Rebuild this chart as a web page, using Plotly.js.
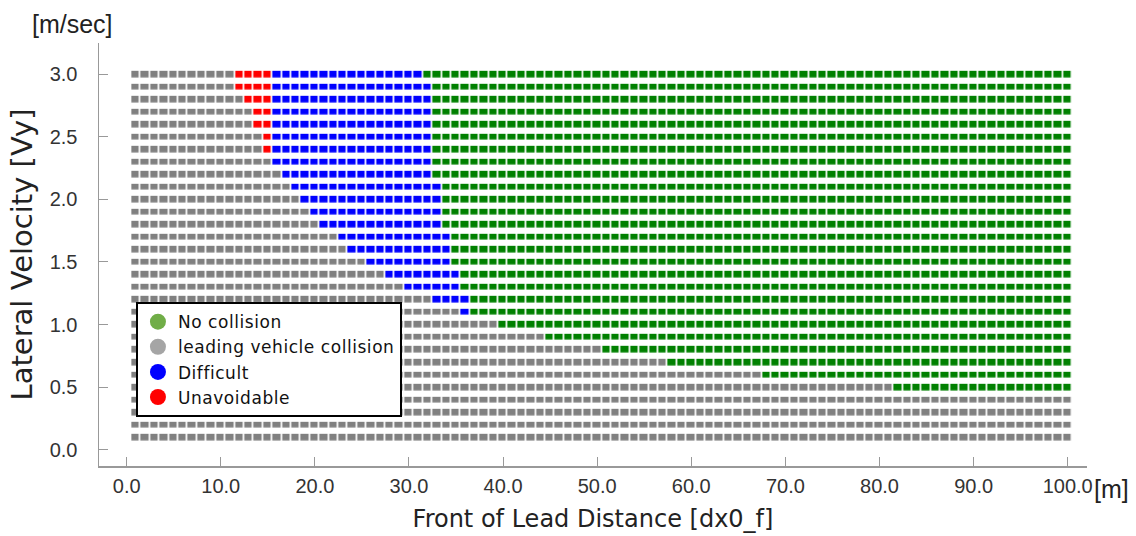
<!DOCTYPE html>
<html>
<head>
<meta charset="utf-8">
<script src="https://cdn.plot.ly/plotly-3.0.1.min.js"></script>
<style>
html,body{margin:0;padding:0;background:#fff;}
#chart{width:1136px;height:536px;}
text.legendtext{letter-spacing:0.55px;}
</style>
</head>
<body>
<div id="chart"></div>
<script>
// Front of lead distance [m] (grid columns)
const dx = [1,2,3,4,5,6,7,8,9,10,11,12,13,14,15,16,17,18,19,20,
            21,22,23,24,25,26,27,28,29,30,31,32,33,34,35,36,37,38,39,40,
            41,42,43,44,45,46,47,48,49,50,51,52,53,54,55,56,57,58,59,60,
            61,62,63,64,65,66,67,68,69,70,71,72,73,74,75,76,77,78,79,80,
            81,82,83,84,85,86,87,88,89,90,91,92,93,94,95,96,97,98,99,100];
// Lateral velocity [m/sec] (grid rows, bottom to top)
const vy = [0.1,0.2,0.3,0.4,0.5,0.6,0.7,0.8,0.9,1.0,
            1.1,1.2,1.3,1.4,1.5,1.6,1.7,1.8,1.9,2.0,
            2.1,2.2,2.3,2.4,2.5,2.6,2.7,2.8,2.9,3.0];

// first dx of each outcome per row (null = none in that row), aligned with vy
const unavoidableStart = [null,null,null,null,null,null,null,null,null,null,
                          null,null,null,null,null,null,null,null,null,null,
                          null,null,null,15,15,14,14,13,12,12];
const difficultStart   = [null,null,null,null,null,null,null,null,null,null,
                          36,33,30,28,26,24,23,21,20,19,
                          18,17,16,16,16,16,16,16,16,16];
const noCollisionStart = [null,null,null,null,82,68,58,51,45,40,
                          37,37,36,36,35,35,35,34,34,34,
                          34,33,33,33,33,33,33,33,33,32];

const categories = ['No collision','leading vehicle collision','Difficult','Unavoidable'];
const legendColors = ['#70AD47','#A5A5A5','#0000FF','#FF0000'];
// cell colours: 0 = leading vehicle collision, 1 = unavoidable, 2 = difficult, 3 = no collision
const cellColors = ['#808080','#FF0000','#0000FF','#008000'];

const z = vy.map((v, i) => dx.map(x => {
  if (noCollisionStart[i] !== null && x >= noCollisionStart[i]) return 3;
  if (difficultStart[i] !== null && x >= difficultStart[i]) return 2;
  if (unavoidableStart[i] !== null && x >= unavoidableStart[i]) return 1;
  return 0;
}));

const colorscale = [
  [0, cellColors[0]], [0.1667, cellColors[0]],
  [0.1667, cellColors[1]], [0.5, cellColors[1]],
  [0.5, cellColors[2]], [0.8333, cellColors[2]],
  [0.8333, cellColors[3]], [1, cellColors[3]]
];

const traces = [{
  type: 'heatmap', x: dx, y: vy, z: z, zmin: 0, zmax: 3,
  colorscale: colorscale, showscale: false, showlegend: false,
  xgap: 1.7, ygap: 6.3, hoverinfo: 'skip'
}];

categories.forEach((name, k) => {
  traces.push({
    type: 'scatter', mode: 'markers', x: [null], y: [null], name: name,
    marker: {color: legendColors[k], size: 16, symbol: 'circle'}, hoverinfo: 'skip'
  });
});

const tickFont = {family: 'Liberation Sans, Arial, sans-serif', size: 20, color: '#333'};

const layout = {
  width: 1136, height: 536,
  margin: {l: 99, r: 49, t: 43, b: 70, pad: 0},
  paper_bgcolor: '#fff', plot_bgcolor: '#fff', showlegend: true,
  xaxis: {
    range: [-2.94, 102.05], tickmode: 'array',
    tickvals: [0,10,20,30,40,50,60,70,80,90,100],
    ticktext: ['0.0','10.0','20.0','30.0','40.0','50.0','60.0','70.0','80.0','90.0','100.0'],
    ticks: 'inside', ticklen: 9, tickwidth: 1, tickcolor: '#999',
    showline: true, linecolor: '#999', linewidth: 1.5, showgrid: false, zeroline: false,
    tickfont: tickFont, ticklabelstandoff: 1,
    title: {text: 'Front of Lead Distance [dx0_f]', font: {family: 'DejaVu Sans, sans-serif', size: 24, color: '#222'}, standoff: 14},
    automargin: false
  },
  yaxis: {
    range: [-0.13, 3.248], tickmode: 'array',
    tickvals: [0,0.5,1,1.5,2,2.5,3],
    ticktext: ['0.0','0.5','1.0','1.5','2.0','2.5','3.0'],
    ticks: 'inside', ticklen: 9, tickwidth: 1, tickcolor: '#999',
    showline: true, linecolor: '#999', linewidth: 1.5, showgrid: false, zeroline: false,
    tickfont: tickFont, ticklabelstandoff: 16,
    title: {text: 'Lateral Velocity [Vy]', font: {family: 'DejaVu Sans, sans-serif', size: 29, color: '#222'}, standoff: 8},
    automargin: false
  },
  legend: {
    x: 0.0374, y: 0.3874, xanchor: 'left', yanchor: 'top',
    bgcolor: '#fff', bordercolor: '#000', borderwidth: 2,
    font: {family: 'DejaVu Sans, sans-serif', size: 17, color: '#111'},
    itemwidth: 30, tracegroupgap: 0
  },
  annotations: [
    {text: '[m/sec]', xref: 'paper', yref: 'paper', x: -0.0273, y: 1.0454,
     xanchor: 'center', yanchor: 'middle', showarrow: false,
     font: {family: 'Liberation Sans, Arial, sans-serif', size: 25, color: '#222'}},
    {text: '[m]', xref: 'paper', yref: 'paper', x: 1.005, y: -0.054,
     xanchor: 'left', yanchor: 'middle', showarrow: false,
     font: {family: 'Liberation Sans, Arial, sans-serif', size: 25, color: '#222'}}
  ]
};

Plotly.newPlot('chart', traces, layout, {displayModeBar: false, staticPlot: true});
</script>
</body>
</html>
